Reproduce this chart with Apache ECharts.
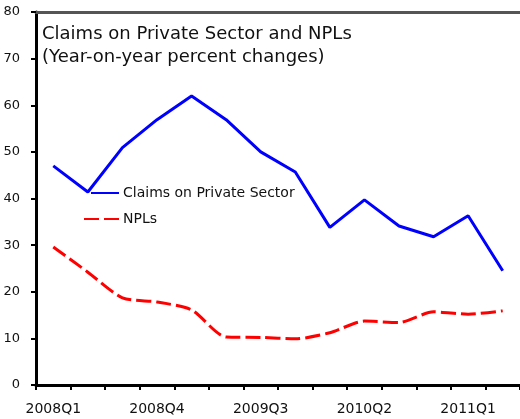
<!DOCTYPE html>
<html><head><meta charset="utf-8">
<script src="https://cdn.jsdelivr.net/npm/echarts@6/dist/echarts.min.js"></script>
<style>html,body{margin:0;padding:0;background:#fff}#c{width:520px;height:419px}</style>
</head><body><div id="c"></div>
<script>
const categories = ['2008Q1','2008Q2','2008Q3','2008Q4','2009Q1','2009Q2','2009Q3','2009Q4','2010Q1','2010Q2','2010Q3','2010Q4','2011Q1','2011Q2'];
const claims = [47.0, 41.4, 50.9, 56.9, 62.0, 56.9, 50.0, 45.7, 33.8, 39.7, 34.1, 31.8, 36.3, 24.5];
const npls = [29.6, 24.2, 18.7, 17.8, 16.1, 10.3, 10.2, 9.9, 11.2, 13.7, 13.4, 15.7, 15.2, 15.9];
const yTicks = [0, 10, 20, 30, 40, 50, 60, 70, 80];

const chart = echarts.init(document.getElementById('c'), null, {renderer: 'canvas'});
const font = '"DejaVu Sans", Verdana, sans-serif';
const legendText = {fontFamily: font, fontSize: 14, color: '#111', padding: [0,0,0,-1]};
chart.setOption({
  animation: false,
  grid: {left: 36, right: -8, top: 12, bottom: 34},
  title: {
    text: 'Claims on Private Sector and NPLs\n(Year-on-year percent changes)',
    left: 37, top: 18,
    textStyle: {fontFamily: font, fontSize: 18, fontWeight: 'normal', color: '#111', lineHeight: 23}
  },
  legend: [{
    left: 85, top: 181, itemWidth: 28, itemHeight: 14,
    itemStyle: {opacity: 0}, textStyle: legendText,
    data: ['Claims on Private Sector']
  }, {
    left: 78, top: 207, itemWidth: 35, itemHeight: 14,
    itemStyle: {opacity: 0}, textStyle: legendText,
    data: ['NPLs']
  }],
  xAxis: [{
    type: 'category', data: categories, boundaryGap: true,
    axisLine: {lineStyle: {color: '#000', width: 3}},
    axisTick: {show: true, interval: 0, length: 5, lineStyle: {color: '#000', width: 2}},
    axisLabel: {interval: 2, color: '#111', fontFamily: font, fontSize: 14, margin: 17}
  }, {
    type: 'category', data: categories, position: 'top',
    axisLine: {lineStyle: {color: '#555', width: 3}},
    axisTick: {show: false}, axisLabel: {show: false}
  }],
  yAxis: {
    type: 'value', min: yTicks[0], max: yTicks[yTicks.length-1], interval: 10,
    axisLine: {show: true, lineStyle: {color: '#000', width: 3}},
    axisTick: {show: true, inside: false, length: 5, lineStyle: {color: '#000', width: 2}},
    splitLine: {show: false},
    axisLabel: {color: '#111', fontFamily: font, fontSize: 13, margin: 16}
  },
  series: [{
    name: 'Claims on Private Sector', type: 'line', data: claims, symbol: 'none',
    lineStyle: {color: '#0000ff', width: 3}, itemStyle: {color: '#0000ff'}
  }, {
    name: 'NPLs', type: 'line', data: npls, symbol: 'none', smooth: 0.25,
    lineStyle: {color: '#ff0000', width: 3, type: [15, 5]}, itemStyle: {color: '#ff0000'}
  }]
});
</script></body></html>
